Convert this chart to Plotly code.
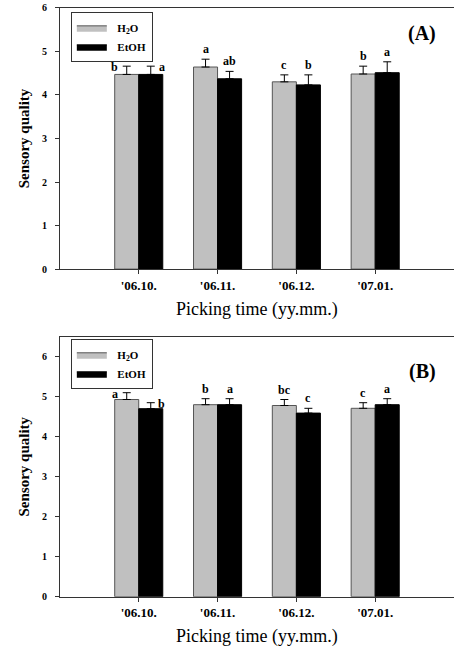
import plotly.graph_objects as go

categories = ["'06.10.", "'06.11.", "'06.12.", "'07.01."]

a_h2o = [4.47, 4.64, 4.30, 4.48]
a_h2o_err = [0.19, 0.18, 0.16, 0.18]
a_etoh = [4.47, 4.37, 4.23, 4.51]
a_etoh_err = [0.19, 0.17, 0.23, 0.25]
a_h2o_letters = ["b", "a", "c", "b"]
a_etoh_letters = ["a", "ab", "b", "a"]

b_h2o = [4.93, 4.80, 4.78, 4.71]
b_h2o_err = [0.17, 0.15, 0.15, 0.14]
b_etoh = [4.70, 4.80, 4.59, 4.80]
b_etoh_err = [0.15, 0.15, 0.12, 0.15]
b_h2o_letters = ["a", "b", "bc", "c"]
b_etoh_letters = ["b", "a", "c", "a"]

y_ticks = [0, 1, 2, 3, 4, 5, 6]
series_names = ["\u2002H<sub>2</sub>O", "\u2002EtOH"]
panel_labels = ["(A)", "(B)"]

SERIF = "Liberation Serif, Times New Roman, serif"
GRAY = "#c0c0c0"
AXC = "#333333"

fig = go.Figure()

panels = [
    (a_h2o, a_h2o_err, a_etoh, a_etoh_err, a_h2o_letters, a_etoh_letters, "x", "y", "legend"),
    (b_h2o, b_h2o_err, b_etoh, b_etoh_err, b_h2o_letters, b_etoh_letters, "x2", "y2", "legend2"),
]

annotations = []
for (h, he, e, ee, hl, el, xa, ya, lg) in panels:
    fig.add_trace(go.Bar(
        x=categories, y=h, name=series_names[0], xaxis=xa, yaxis=ya,
        marker=dict(color=GRAY, line=dict(color="#555555", width=1)),
        error_y=dict(type="data", array=he, arrayminus=[0] * len(he), symmetric=False,
                     color="#000000", thickness=1, width=4),
        showlegend=False))
    fig.add_trace(go.Bar(
        x=categories, y=e, name=series_names[1], xaxis=xa, yaxis=ya,
        marker=dict(color="#000000", line=dict(color="#000000", width=1)),
        error_y=dict(type="data", array=ee, arrayminus=[0] * len(ee), symmetric=False,
                     color="#000000", thickness=1, width=4),
        showlegend=False))
    # legend-only entries (wide swatches)
    fig.add_trace(go.Scatter(x=[None], y=[None], mode="lines", fill="toself",
                             fillcolor=GRAY, line=dict(color="#555555", width=1),
                             name=series_names[0], legend=lg, xaxis=xa, yaxis=ya))
    fig.add_trace(go.Scatter(x=[None], y=[None], mode="lines", fill="toself",
                             fillcolor="#000000", line=dict(color="#000000", width=1),
                             name=series_names[1], legend=lg, xaxis=xa, yaxis=ya))
    for i, c in enumerate(categories):
        for lab, val, err, side in ((hl[i], h[i], he[i], -1), (el[i], e[i], ee[i], 1)):
            if i == 0:
                annotations.append(dict(x=c, y=val + err, xref=xa, yref=ya, text=lab,
                                        showarrow=False, xshift=(-24 if side < 0 else 23),
                                        yanchor="middle", yshift=-1,
                                        font=dict(family=SERIF, size=12, weight="bold", color="#000")))
            else:
                annotations.append(dict(x=c, y=val + err, xref=xa, yref=ya, text=lab,
                                        showarrow=False, xshift=12 * side,
                                        yanchor="bottom", yshift=1,
                                        font=dict(family=SERIF, size=12, weight="bold", color="#000")))

annotations.append(dict(x=0.965, y=0.949, xref="paper", yref="paper", text=panel_labels[0],
                        xanchor="right", yanchor="middle",
                        showarrow=False, font=dict(family=SERIF, size=20, weight="bold", color="#000")))
annotations.append(dict(x=0.965, y=0.428, xref="paper", yref="paper", text=panel_labels[1],
                        xanchor="right", yanchor="middle",
                        showarrow=False, font=dict(family=SERIF, size=20, weight="bold", color="#000")))

xcommon = dict(type="category", range=[-1, 4], showline=True, linecolor=AXC, linewidth=1,
               mirror=True, ticks="outside", ticklen=4, tickcolor=AXC, showgrid=False,
               automargin=False,
               tickfont=dict(family=SERIF, size=13, weight="bold", color="#000"),
               title=dict(text="Picking time (yy.mm.)", standoff=10,
                          font=dict(family=SERIF, size=18, color="#000")))
ycommon = dict(showline=True, linecolor=AXC, linewidth=1, ticks="outside", ticklen=4,
               tickcolor=AXC, showgrid=False, zeroline=False, tickvals=y_ticks,
               ticklabelstandoff=6, automargin=False,
               tickfont=dict(family=SERIF, size=10, weight="bold", color="#000"),
               title=dict(text="Sensory quality", standoff=8,
                          font=dict(family=SERIF, size=15, weight="bold", color="#000")))

legcommon = dict(xanchor="left", yanchor="top", bgcolor="white", bordercolor=AXC, borderwidth=1,
                 font=dict(family=SERIF, size=11, weight="bold", color="#000"),
                 tracegroupgap=0, itemwidth=30)

fig.update_layout(
    width=454, height=650, margin=dict(l=0, r=0, t=0, b=0, autoexpand=False),
    paper_bgcolor="white", plot_bgcolor="white",
    barmode="group", bargap=0.39, bargroupgap=0,
    xaxis=dict(domain=[0.132, 1.0], anchor="y", **xcommon),
    yaxis=dict(domain=[0.586, 0.988], anchor="x", range=[0, 6], **ycommon),
    xaxis2=dict(domain=[0.132, 1.0], anchor="y2", **xcommon),
    yaxis2=dict(domain=[0.082, 0.482], anchor="x2", range=[0, 6.5], **ycommon),
    legend=dict(x=0.156, y=0.981, **legcommon),
    legend2=dict(x=0.156, y=0.478, **legcommon),
    annotations=annotations,
)

fig.write_html("out.html", config={"displayModeBar": False},
               post_script="document.body.style.margin='0';document.body.style.overflow='hidden';")
